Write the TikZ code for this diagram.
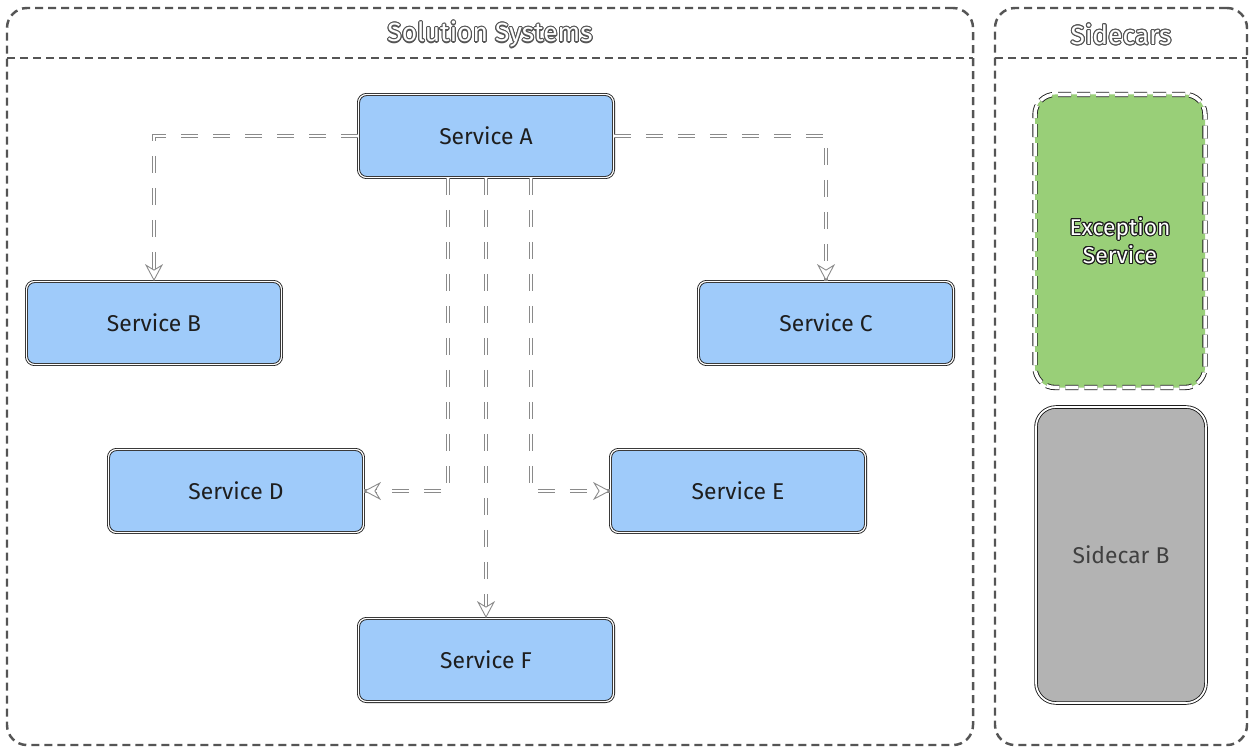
\documentclass[tikz,border=0pt]{standalone}
\usepackage{fontspec}
\setmainfont{Fira Sans}
\usepackage[copies]{contour}
\contourlength{0.6pt}
\usetikzlibrary{arrows.meta,positioning,calc}
\definecolor{svcblue}{HTML}{9FCBFA}
\definecolor{excgreen}{HTML}{99CF78}
\definecolor{cargrey}{HTML}{B3B3B3}
\definecolor{edgegrey}{HTML}{555555}
\definecolor{linkgrey}{HTML}{8A8A8A}
\definecolor{inkdark}{HTML}{1E1E1E}
\tikzset{
  >=Stealth,
  font=\fontsize{13}{16}\selectfont,
  group/.style={draw=edgegrey,line width=1.4pt,dash pattern=on 1.6mm off 1mm,
                rounded corners=4mm,inner sep=0pt,outer sep=0pt,anchor=north west},
  groupline/.style={draw=edgegrey,line width=1.4pt,dash pattern=on 1.6mm off 1mm},
  grouptitle/.style={font=\fontsize{15}{18}\selectfont,text=white},
  svc/.style={draw=inkdark,line width=0.5pt,double=white,double distance=0.7pt,
              rounded corners=1.6mm,fill=svcblue,minimum width=51mm,
              minimum height=16.6mm,text=inkdark,align=center},
  sidecar/.style={draw=inkdark,line width=0.5pt,double=white,rounded corners=4mm,
                  minimum width=34mm,align=center},
  link/.style={-{Stealth[open,color=linkgrey,fill=white,length=3.4mm,width=3.6mm,line width=0.5pt]},
               draw=white,line width=0.9pt,dash pattern=on 3.4mm off 3mm,
               preaction={draw=linkgrey,line width=1.8pt,dash pattern=on 3.4mm off 3mm,-}},
}
\begin{document}
\begin{tikzpicture}[x=0.2mm,y=-0.2mm]
  \useasboundingbox[fill=white] (0,0) rectangle (1254,750);

  % ---- solution systems frame ----
  \node[group,minimum width=193.2mm,minimum height=147.4mm] (solsys) at (7,8) {};
  \draw[groupline] ([yshift=-10mm]solsys.north west) -- ([yshift=-10mm]solsys.north east);
  \node[grouptitle] (soltitle) at ($(solsys.north)+(0,-5.4mm)$)
    {\contour{edgegrey}{Solution Systems}};

  % ---- services ----
  \node[svc] (svcA) at (486,136) {Service A};
  \node[svc] (svcB) at (154,323) {Service B};
  \node[svc] (svcC) at (826,323) {Service C};
  \node[svc] (svcD) at (236,491) {Service D};
  \node[svc] (svcE) at (738,491) {Service E};
  \node[svc] (svcF) at (486,660) {Service F};

  % ---- calls from service A ----
  \draw[link] (svcA.west) -| (svcB.north);
  \draw[link] (svcA.east) -| (svcC.north);
  \draw[link] ([xshift=-7.6mm]svcA.south) |- (svcD.east);
  \draw[link] (svcA.south) -- (svcF.north);
  \draw[link] ([xshift=9mm]svcA.south) |- (svcE.west);

  % ---- sidecars frame ----
  \node[group,minimum width=50.4mm,minimum height=147.4mm] (sidecars) at (995,8) {};
  \draw[groupline] ([yshift=-10mm]sidecars.north west) -- ([yshift=-10mm]sidecars.north east);
  \node[grouptitle] (cartitle) at ($(sidecars.north)+(0,-5.4mm)$)
    {\contour{edgegrey}{Sidecars}};
  \node[sidecar,fill=excgreen,double distance=2pt,dash pattern=on 2.6mm off 1.2mm,
        minimum height=58.6mm,text=white] (excsvc) at (1120,241)
    {\contour{inkdark}{Exception}\\\contour{inkdark}{Service}};
  \node[sidecar,fill=cargrey,double distance=1pt,minimum height=59.2mm,
        text=inkdark!85] (carB) at (1121,555) {Sidecar B};
\end{tikzpicture}
\end{document}
